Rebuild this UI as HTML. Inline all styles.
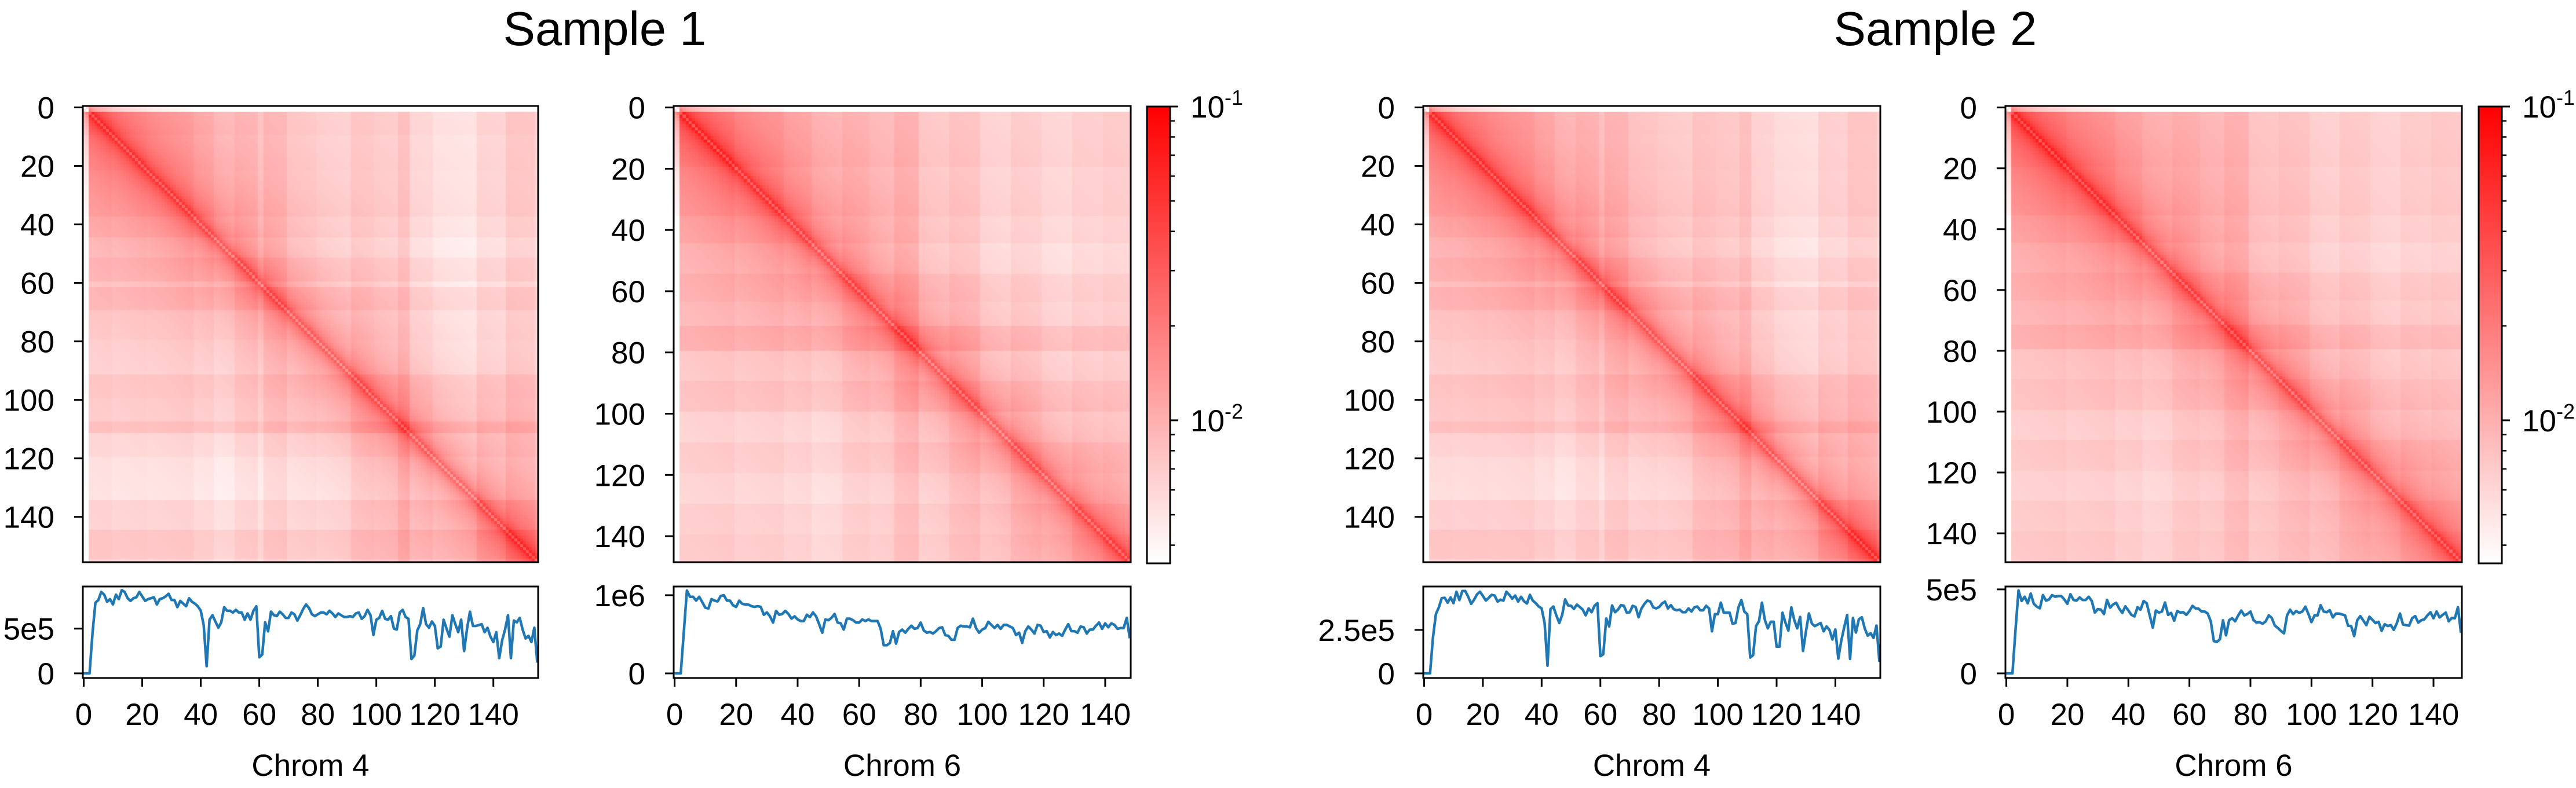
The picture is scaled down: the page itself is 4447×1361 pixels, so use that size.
<!DOCTYPE html>
<html><head><meta charset="utf-8">
<style>
html,body{margin:0;padding:0;background:#fff;}
#wrap{position:relative;width:4447px;height:1361px;overflow:hidden;}
canvas{position:absolute;}
svg{position:absolute;left:0;top:0;}
text{font-family:"Liberation Sans",Arial,sans-serif;fill:#000;}
</style></head>
<body>
<div id="wrap">
<canvas id="hm0"></canvas>
<canvas id="hm1"></canvas>
<canvas id="hm2"></canvas>
<canvas id="hm3"></canvas>
<svg id="svg" width="4447" height="1361" xmlns="http://www.w3.org/2000/svg">
  <defs>
    <linearGradient id="cbg" x1="0" y1="1" x2="0" y2="0">
      <stop offset="0" stop-color="#ffffff"/>
      <stop offset="1" stop-color="#ff0000"/>
    </linearGradient>
  </defs>
  <text x="1044" y="78" font-size="83" text-anchor="middle">Sample 1</text>
  <text x="3341" y="78" font-size="83" text-anchor="middle">Sample 2</text>
</svg>
</div>
<script>
// ---- data: coverage tracks (values in units of 1e5) ----
const covS1C4 = [0,0,0,4.5,7.9,8.2,9.1,8.8,8.0,8.3,
7.7,8.8,8.3,9.3,9.1,8.4,8.1,8.4,8.5,9.1,
8.6,8.1,8.3,8.4,8.5,7.7,8.3,8.4,8.6,8.9,
8.2,8.2,7.4,8.1,7.8,7.5,8.4,8.0,7.8,7.5,
7.0,5.4,0.8,6.0,6.5,5.8,5.1,5.7,7.4,7.0,
7.0,6.8,7.1,6.8,6.8,6.0,6.7,6.0,7.0,7.5,
1.8,2.1,5.7,4.7,6.9,6.5,6.4,6.9,6.6,6.2,
6.2,6.8,6.6,5.9,6.5,7.2,7.7,7.3,6.6,6.4,
6.6,6.8,6.8,6.6,7.0,6.7,6.3,6.7,6.5,6.3,
6.3,6.4,6.3,6.7,6.8,6.1,6.4,7.1,6.5,4.3,
6.0,6.2,7.0,6.1,6.0,6.4,5.0,4.9,6.8,7.1,
6.3,6.1,1.6,2.0,4.8,5.5,7.3,5.5,5.1,5.8,
5.3,2.8,3.0,6.0,5.0,4.1,6.5,5.5,4.6,6.0,
2.5,5.0,6.9,5.3,5.3,5.4,5.5,4.6,5.1,4.1,
3.5,4.6,1.7,3.7,4.9,6.5,1.7,5.9,5.7,6.2,
4.9,3.9,4.2,3.5,5.1,1.2];
const covS1C6 = [0,0,0,5.3,10.6,9.8,9.8,9.3,9.8,9.1,
8.4,8.3,9.5,9.3,9.2,9.9,10.0,9.3,9.3,8.7,
8.5,9.3,8.9,8.8,8.8,8.6,8.5,8.6,8.5,7.5,
7.8,7.3,6.5,8.0,7.5,7.6,8.0,7.6,7.0,7.3,
6.9,6.7,6.7,7.5,7.2,7.8,7.3,6.3,5.2,6.9,
6.8,7.1,7.6,6.5,6.4,5.6,7.0,7.0,6.8,6.5,
6.5,6.9,6.7,6.9,6.7,6.7,6.7,5.7,3.6,3.6,
3.9,5.4,3.8,5.3,5.6,5.2,5.7,6.1,5.7,5.8,
6.5,5.5,5.2,5.3,5.1,5.4,5.8,5.9,4.9,4.8,
4.3,4.3,5.8,6.1,6.0,6.0,5.9,7.0,5.8,5.2,
5.6,5.8,6.6,6.2,5.8,6.2,5.7,6.2,6.2,6.0,
5.8,4.9,5.2,3.9,5.4,6.0,5.6,5.1,6.2,6.1,
5.3,5.4,4.6,5.3,4.9,5.1,4.8,5.6,6.3,5.4,
5.4,5.2,6.0,5.9,5.1,5.6,5.6,6.1,6.5,5.7,
6.4,5.9,6.4,6.2,5.7,5.8,5.8,7.1,4.5];
const covS2C4 = [0,0,0,2.04,3.41,3.80,4.33,4.35,4.07,4.37,
4.04,4.70,4.22,4.74,4.74,4.41,4.00,4.24,4.55,4.70,
4.46,4.19,4.35,4.52,4.48,4.13,4.24,4.19,4.70,4.52,
4.30,4.48,4.13,4.41,4.15,4.02,4.52,4.19,4.04,3.85,
3.74,2.92,0.44,3.69,3.85,3.34,2.90,3.36,4.26,3.91,
3.89,3.71,3.96,3.82,3.67,3.34,3.74,3.52,3.89,4.04,
0.99,1.10,3.16,2.70,3.91,3.52,3.67,3.93,3.89,3.49,
3.52,3.89,3.82,3.23,3.74,4.00,4.19,4.13,3.80,3.74,
3.82,4.02,4.13,3.74,3.93,3.69,3.63,3.67,3.52,3.52,
3.74,3.56,3.80,3.85,3.63,3.63,3.89,3.74,2.42,3.41,
3.41,4.07,3.49,3.49,3.49,2.86,2.90,3.80,4.22,3.56,
3.41,0.91,1.05,2.72,3.01,4.07,3.08,2.59,2.97,2.97,
1.54,1.54,3.49,2.92,2.46,3.80,3.08,2.59,3.25,1.29,
2.42,3.45,2.86,2.72,2.81,2.90,2.42,2.70,2.50,1.95,
2.53,0.85,1.87,2.64,3.36,0.83,3.19,2.35,3.12,3.23,
2.59,2.17,2.31,2.04,2.75,0.66];
const covS2C6 = [0,0,0,2.59,4.94,4.31,4.56,4.17,4.75,4.14,
3.97,3.87,4.66,4.33,4.40,4.66,4.56,4.60,4.60,4.40,
4.14,4.71,4.37,4.33,4.52,4.37,4.37,4.56,4.31,3.62,
3.83,3.79,3.53,4.37,3.91,4.10,4.20,3.85,3.60,3.99,
3.74,3.48,3.39,3.94,3.79,4.31,4.17,3.45,2.72,3.74,
3.62,3.68,4.22,3.48,3.60,3.14,3.71,3.62,3.64,3.48,
3.71,4.02,3.87,3.85,3.68,3.68,3.56,3.10,1.92,1.87,
2.03,3.16,2.26,3.16,3.28,3.10,3.45,3.74,3.45,3.53,
3.68,3.18,3.02,3.05,2.95,3.10,3.45,3.30,2.84,2.70,
2.53,2.38,3.45,3.79,3.53,3.71,3.60,3.68,3.97,3.53,
3.05,3.45,3.45,4.06,3.68,3.64,3.76,3.33,3.56,3.56,
3.51,3.45,2.84,2.82,2.22,3.16,3.41,3.14,2.87,3.37,
3.18,2.99,3.07,2.53,2.93,2.82,2.87,2.59,2.99,3.56,
2.91,2.87,2.84,3.28,3.41,3.02,3.16,3.22,3.45,3.64,
3.28,3.68,3.33,3.48,3.62,3.10,3.30,3.28,3.94,2.41];
// ---- data: heatmap compartment weights [start bin, weight] ----
const segC4S1 = [[0,0.3],[2,1.3],[10,1.2],[22,1.15],[38,1.0],[45,0.85],[52,1.0],[60,0.8],[62,1.05],[70,0.85],[80,0.8],[92,1.0],[100,0.95],[108,1.2],[112,0.85],[120,0.75],[135,1.0],[145,1.3],[155,1.1]];
const segC6S1 = [[0,0.3],[2,1.35],[20,1.2],[36,1.05],[45,0.9],[55,1.05],[64,0.95],[72,1.2],[80,0.85],[90,1.0],[100,0.8],[110,0.95],[120,0.85],[130,1.0],[140,1.1]];
const segC4S2 = [[0,0.3],[2,1.3],[10,1.25],[22,1.2],[38,1.05],[45,0.9],[52,1.05],[60,0.85],[62,1.1],[70,0.9],[80,0.85],[92,1.05],[100,1.0],[108,1.2],[112,0.9],[120,0.8],[135,1.05],[145,1.3],[155,1.1]];
const segC6S2 = [[0,0.3],[2,1.35],[20,1.25],[36,1.1],[45,0.95],[55,1.1],[64,1.0],[72,1.2],[80,0.9],[90,1.0],[100,0.85],[110,1.0],[120,0.9],[130,1.05],[140,1.15]];
const hmTicks = [0,20,40,60,80,100,120,140];
const xTicks = [0,20,40,60,80,100,120,140];
const cbarMajor = [0.1,0.01];
const cbarMinor = [0.004,0.005,0.006,0.007,0.008,0.009,0.02,0.03,0.04,0.05,0.06,0.07,0.08,0.09];
const vmin = 0.0035, vmax = 0.1;

const NS = 'http://www.w3.org/2000/svg';
const svg = document.getElementById('svg');
function el(tag, attrs, parent){
  const e = document.createElementNS(NS, tag);
  for (const k in attrs) e.setAttribute(k, attrs[k]);
  (parent||svg).appendChild(e);
  return e;
}
function expand(seg, N){
  const a = [];
  for (let i=0;i<N;i++){ let w=seg[0][1]; for (const s of seg) if (s[0]<=i) w=s[1]; a.push(w); }
  return a;
}
const HT=183, HH=788, LT=1013, LB=1171;
const panels = [
  {hx:143, hw:786, cov:covS1C4, seg:segC4S1, ylim:[-0.52,9.71], yt:[[0,'0'],[5,'5e5']], label:'Chrom 4', id:'hm0', key:'s1-chrom4'},
  {hx:1163, hw:789, cov:covS1C6, seg:segC6S1, ylim:[-0.59,11.11], yt:[[0,'0'],[10,'1e6']], label:'Chrom 6', id:'hm1', key:'s1-chrom6'},
  {hx:2457, hw:789, cov:covS2C4, seg:segC4S2, ylim:[-0.267,5.0], yt:[[0,'0'],[2.5,'2.5e5']], label:'Chrom 4', id:'hm2', key:'s2-chrom4'},
  {hx:3462, hw:788, cov:covS2C6, seg:segC6S2, ylim:[-0.276,5.17], yt:[[0,'0'],[5,'5e5']], label:'Chrom 6', id:'hm3', key:'s2-chrom6'}
];
const lmin=Math.log10(vmin), lmax=Math.log10(vmax);
panels.forEach(p=>{
  const N = p.cov.length;
  const cv = document.getElementById(p.id);
  cv.width=p.hw; cv.height=HH; cv.style.left=p.hx+'px'; cv.style.top=HT+'px';
  const ctx = cv.getContext('2d');
  const w = expand(p.seg, N);
  const cs = p.hw/N, rs = HH/N;
  for (let i=0;i<N;i++) for (let j=0;j<N;j++){
    const d=Math.abs(i-j);
    let v = (d===0?0.02:0.04*Math.pow(d,-0.42))*Math.pow(w[i]*w[j],0.8);
    let t=(Math.log10(v)-lmin)/(lmax-lmin); t=Math.max(0,Math.min(1,t));
    const g=Math.round(255*(1-t));
    ctx.fillStyle='rgb(255,'+g+','+g+')';
    ctx.fillRect(Math.floor(j*cs),Math.floor(i*rs),Math.ceil(cs)+1,Math.ceil(rs)+1);
  }
  const hg = el('g',{});
  
  
  const hb = el('rect',{x:p.hx,y:HT,width:p.hw,height:HH,fill:'none',stroke:'#000','stroke-width':3},hg);
  
  
  hmTicks.forEach(v=>{
    const y = HT + (v+0.5)/N*HH;
    const tk = el('line',{x1:p.hx-15,x2:p.hx,y1:y,y2:y,stroke:'#000','stroke-width':3},hg);
    
    
    const tl = el('text',{x:p.hx-49,y:y+19,'font-size':53,'text-anchor':'end'},hg);
    tl.textContent=v;
    
    
  });
  const x0=-0.3, x1=N-1+0.3;
  const xs = v => p.hx + (v-x0)/(x1-x0)*p.hw;
  const ys = v => LB - (v-p.ylim[0])/(p.ylim[1]-p.ylim[0])*(LB-LT);
  const lg = el('g',{});
  
  
  const pts = p.cov.map((v,i)=>xs(i).toFixed(1)+','+ys(v).toFixed(1)).join(' ');
  const pl = el('polyline',{points:pts,fill:'none',stroke:'#1f77b4','stroke-width':4.5,'stroke-linejoin':'round'},lg);
  
  
  const lb = el('rect',{x:p.hx,y:LT,width:p.hw,height:LB-LT,fill:'none',stroke:'#000','stroke-width':3},lg);
  
  
  p.yt.forEach(t=>{
    const y=ys(t[0]);
    const tk=el('line',{x1:p.hx-15,x2:p.hx,y1:y,y2:y,stroke:'#000','stroke-width':3},lg);
    
    
    const tl=el('text',{x:p.hx-49,y:y+19,'font-size':53,'text-anchor':'end'},lg);
    tl.textContent=t[1];
    
    
  });
  xTicks.forEach(v=>{
    const x=xs(v);
    const tk=el('line',{x1:x,x2:x,y1:LB,y2:LB+15,stroke:'#000','stroke-width':3},lg);
    
    
    const tl=el('text',{x:x,y:1252,'font-size':53,'text-anchor':'middle'},lg);
    tl.textContent=v;
    
    
  });
  const xl=el('text',{x:p.hx+p.hw/2,y:1340,'font-size':53,'text-anchor':'middle'},lg);
  xl.textContent=p.label;
  
  
});
[1980,4279].forEach((cx,k)=>{
  const g=el('g',{});
  
  
  const top=184, h=789, w=40;
  const r=el('rect',{x:cx,y:top,width:w,height:h,fill:'url(#cbg)',stroke:'#000','stroke-width':3},g);
  
  
  const cy = v => top+h - (Math.log10(v)-lmin)/(lmax-lmin)*h;
  cbarMinor.forEach(v=>{
    const y=cy(v);
    const t=el('line',{x1:cx+w,x2:cx+w+8,y1:y,y2:y,stroke:'#000','stroke-width':2.5},g);
    
    
  });
  cbarMajor.forEach(v=>{
    const y=cy(v);
    const t=el('line',{x1:cx+w,x2:cx+w+14,y1:y,y2:y,stroke:'#000','stroke-width':3},g);
    
    
    const tx=el('text',{x:cx+w+35,y:y+19,'font-size':53},g);
    
    
    tx.appendChild(document.createTextNode('10'));
    const sp=el('tspan',{'font-size':36,dy:-22},tx);
    sp.textContent='-'+Math.round(-Math.log10(v));
  });
});
</script>
</body></html>
